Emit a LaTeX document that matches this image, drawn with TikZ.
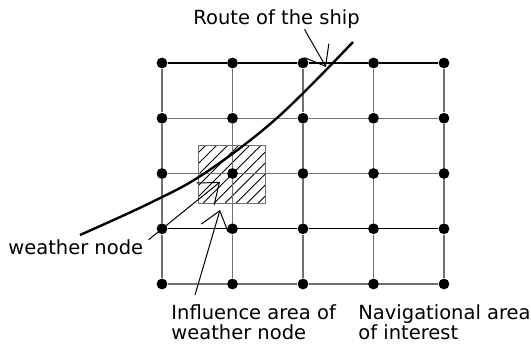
\documentclass[tikz,border=0pt]{standalone}
\usepackage{fontspec}
\setmainfont{DejaVu Sans}
\usetikzlibrary{arrows.meta,patterns.meta}
\definecolor{gridgray}{HTML}{707070}

\begin{document}
\begin{tikzpicture}[
  x=0.5pt,y=-0.5pt,
  font=\fontsize{9.75pt}{10pt}\selectfont,
  dot/.style={circle,fill=black,inner sep=0pt,minimum size=5.4pt},
  gridline/.style={line width=0.7pt},
  txt/.style={inner sep=0pt,align=left},
  pointer/.style={-{Straight Barb[length=9pt,width=14pt]},line width=0.5pt},
  shiproute/.style={line width=1.2pt},
  hatchbox/.style={draw=gridgray,line width=0.5pt,inner sep=0pt,
                   minimum width=33.5pt,minimum height=29pt,
                   pattern={Lines[angle=45,distance=3.9pt,line width=0.45pt]}}
]
\useasboundingbox (0,0) rectangle (531,351);
\node[hatchbox] (infarea) at (231.5,175) {};
\foreach \i in {0,...,4}
  \foreach \j in {0,...,4}
    \node[dot] (g-\i-\j) at ({162+70.5*\i},{63+55.25*\j}) {};
\foreach \i/\hc in {0/black,1/gridgray,2/gridgray,3/black,4/gridgray}
  \foreach \j [count=\k] in {0,...,3} {
    \draw[gridline,draw=gridgray] (g-\i-\j) -- (g-\i-\k);
    \draw[gridline,draw=\hc] (g-\j-\i) -- (g-\k-\i);
  }
\draw[shiproute] plot[smooth,tension=0.6] coordinates {(80,235) (150,203) (205,173) (277,118) (353,42)};
\coordinate (shiptip) at (326,67);
\coordinate (wtip) at (220,182);
\coordinate (itip) at (220,210);
\node[txt,anchor=base west] (route) at (193,25) {Route of the ship};
\node[txt,anchor=base west] (wnode) at (8,255) {weather node};
\node[txt,anchor=north west] (infl) at (171,304) {Influence area of\\weather node};
\node[txt,anchor=north west] (navarea) at (358,304) {Navigational area\\of interest};
\draw[pointer] ([xshift=14pt]route.south) -- (shiptip);
\draw[pointer] ([xshift=2.5pt]wnode.north east) -- (wtip);
\draw[pointer] ([xshift=12pt,yshift=4.5pt]infl.north west) -- (itip);
\end{tikzpicture}
\end{document}
